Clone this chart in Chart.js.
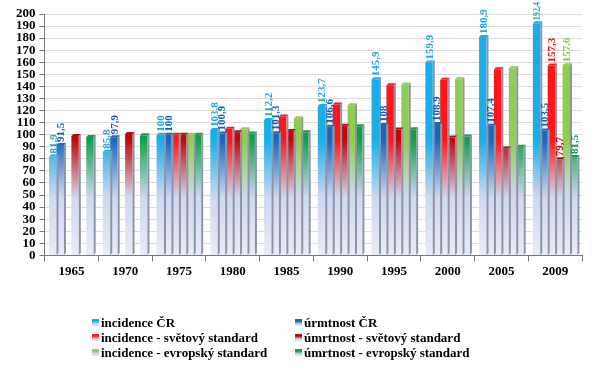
<!DOCTYPE html>
<html>
<head>
<meta charset="utf-8">
<script src="https://cdn.jsdelivr.net/npm/chart.js@4"></script>
<style>
  body { margin: 0; background: #fff; }
  #wrap { position: relative; width: 604px; height: 375px; }
  #legend {
    position: absolute; left: 92px; top: 316px;
    display: grid; grid-template-columns: 203px 220px; row-gap: 1px;
    font: bold 13px "Liberation Serif", serif; color: #000;
  }
  #legend div { height: 14px; line-height: 14px; white-space: nowrap; }
  #legend span { display: inline-block; width: 7px; height: 7px; margin-right: 2px; vertical-align: 1px; }
</style>
</head>
<body>
<div id="wrap">
  <canvas id="chart"></canvas>
  <div id="legend"></div>
</div>
<script>
const years = ['1965', '1970', '1975', '1980', '1985', '1990', '1995', '2000', '2005', '2009'];
const incidenceCR   = [81.9, 85.8, 100, 103.8, 112.2, 123.7, 145.9, 159.9, 180.9, 192.4];
const umrtnostCR    = [91.5, 97.9, 100, 100.9, 101.3, 106.6, 108, 108.9, 107.4, 103.5];
const incidenceSvet = [null, null, 100, 105, 115, 125, 141, 145.5, 154.3, 157.3];
const umrtnostSvet  = [99, 100.5, 100, 102, 103, 107.5, 104.3, 97.7, 88.6, 79.7];
const incidenceEvr  = [null, null, 100, 104.5, 113.7, 124.5, 141.5, 146, 155, 157.6];
const umrtnostEvr   = [98, 99.5, 100, 101, 102, 107, 104.5, 98.5, 90, 81.5];

const seriesNames = [
  'incidence ČR', 'úrmtnost ČR',
  'incidence - světový standard', 'úmrtnost - světový standard',
  'incidence - evropský standard', 'úmrtnost - evropský standard'
];
const seriesData = [incidenceCR, umrtnostCR, incidenceSvet, umrtnostSvet, incidenceEvr, umrtnostEvr];
const barColors = ['#18aeea', '#1866bd', '#ff1616', '#c20808', '#8ecd4f', '#10a04c'];
const labelColors = ['#1aa8e4', '#1460b8', '#ff0000', '#cc0000', '#86c846', '#0e9a44'];
// only the two ČR series get labels in every year, the rest only in the last one
const labelAll = [true, true, false, false, false, false];

function fade(chart, color) {
  const area = chart.chartArea;
  if (!area) return color;
  const g = chart.ctx.createLinearGradient(0, area.top, 0, area.bottom);
  g.addColorStop(0, color);
  g.addColorStop(0.52, color);
  g.addColorStop(0.76, '#cfd8ef');
  g.addColorStop(1, '#e8ecf7');
  return g;
}

const fmt = v => String(v).replace('.', ',');

// fake 3D: side + top face of every bar
const bar3d = {
  id: 'bar3d',
  afterDatasetDraw(chart, args) {
    const ctx = chart.ctx;
    const meta = args.meta;
    const color = barColors[args.index];
    meta.data.forEach((b, j) => {
      if (seriesData[args.index][j] == null) return;
      const r = b.x + b.width / 2, l = b.x - b.width / 2, d = 2;
      ctx.save();
      ctx.fillStyle = '#8c94a6';
      ctx.beginPath();
      ctx.moveTo(r, b.y); ctx.lineTo(r + d, b.y - d); ctx.lineTo(r + d, b.base - d); ctx.lineTo(r, b.base);
      ctx.closePath(); ctx.fill();
      ctx.fillStyle = color;
      ctx.beginPath();
      ctx.moveTo(l, b.y); ctx.lineTo(l + d, b.y - d); ctx.lineTo(r + d, b.y - d); ctx.lineTo(r, b.y);
      ctx.closePath(); ctx.fill();
      ctx.restore();
    });
  }
};

const valueLabels = {
  id: 'valueLabels',
  afterDatasetsDraw(chart) {
    const ctx = chart.ctx;
    chart.data.datasets.forEach((ds, i) => {
      const meta = chart.getDatasetMeta(i);
      meta.data.forEach((b, j) => {
        const v = ds.data[j];
        if (v == null) return;
        if (!labelAll[i] && j !== ds.data.length - 1) return;
        const text = fmt(v);
        ctx.save();
        ctx.font = 'bold 11px "Liberation Serif"';
        const w = ctx.measureText(text).width;
        const start = b.y - 3;
        // squeeze the label when there is no room above a tall bar
        const room = start - 2;
        ctx.translate(b.x + 1, start);
        ctx.rotate(-Math.PI / 2);
        if (w > room) ctx.scale(room / w, 1);
        ctx.fillStyle = labelColors[i];
        ctx.textAlign = 'left';
        ctx.textBaseline = 'middle';
        ctx.fillText(text, 0, 0);
        ctx.restore();
      });
    });
  }
};

new Chart(document.getElementById('chart'), {
  type: 'bar',
  data: {
    labels: years,
    datasets: seriesData.map((d, i) => ({
      label: seriesNames[i],
      data: d,
      backgroundColor: c => fade(c.chart, barColors[i]),
      borderWidth: 0,
      categoryPercentage: 0.83,
      barPercentage: 1
    }))
  },
  options: {
    responsive: true,
    maintainAspectRatio: false,
    animation: false,
    layout: { padding: { left: 12, top: 14, right: 22, bottom: 94 } },
    plugins: {
      legend: { display: false },
      tooltip: { enabled: false }
    },
    scales: {
      x: {
        grid: { drawOnChartArea: false, drawTicks: true, tickLength: 6, color: '#777' },
        border: { color: '#777' },
        ticks: { color: '#000', font: { family: 'Liberation Serif', size: 13, weight: 'bold' }, padding: 2 }
      },
      y: {
        min: 0, max: 200,
        grid: { color: '#dcdcdc', tickColor: '#777', tickLength: 5 },
        border: { color: '#777' },
        ticks: {
          stepSize: 10, autoSkip: false, color: '#000',
          font: { family: 'Liberation Serif', size: 13, weight: 'bold', lineHeight: 1 }, padding: 4
        }
      }
    }
  },
  plugins: [bar3d, valueLabels]
});

const legend = document.getElementById('legend');
seriesNames.forEach((name, i) => {
  const row = document.createElement('div');
  const sw = document.createElement('span');
  sw.style.background = 'linear-gradient(' + barColors[i] + ' 0%, ' + barColors[i] + ' 30%, #d8def2 75%)';
  row.appendChild(sw);
  row.appendChild(document.createTextNode(name));
  legend.appendChild(row);
});
</script>
</body>
</html>
